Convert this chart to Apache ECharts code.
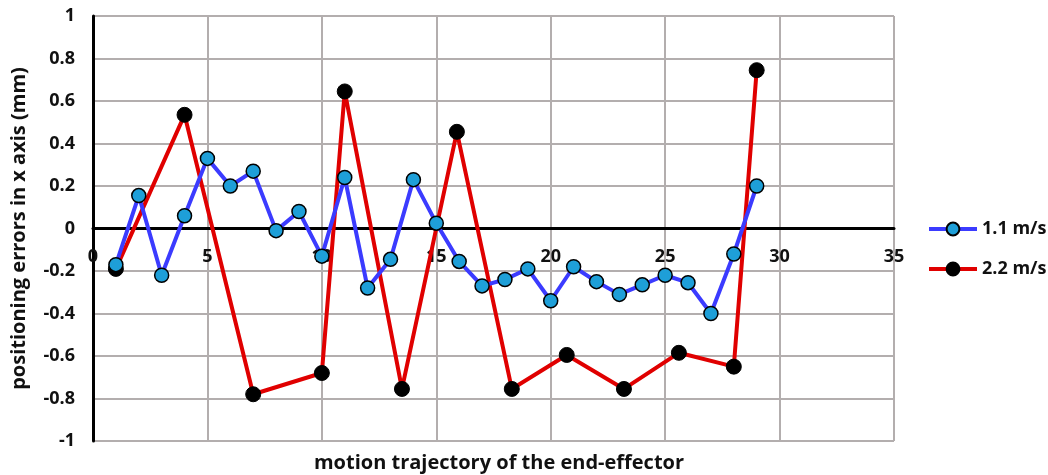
<!DOCTYPE html>
<html>
<head>
<meta charset="utf-8">
<script src="https://cdn.jsdelivr.net/npm/echarts@6/dist/echarts.min.js"></script>
<style>
  html, body { margin: 0; padding: 0; background: #fff; }
  #chart { width: 1048px; height: 475px; }
</style>
</head>
<body>
<div id="chart"></div>
<script>
// 1.1 m/s : one point per step 1..29
const slowX = [1, 2, 3, 4, 5, 6, 7, 8, 9, 10, 11, 12, 13, 14, 15, 16, 17, 18, 19, 20, 21, 22, 23, 24, 25, 26, 27, 28, 29];
const slowY = [-0.17, 0.155, -0.22, 0.06, 0.33, 0.2, 0.27, -0.01, 0.08, -0.13, 0.24, -0.28, -0.145, 0.23, 0.025,
  -0.155, -0.27, -0.24, -0.19, -0.34, -0.18, -0.25, -0.31, -0.265, -0.22, -0.255, -0.4, -0.12, 0.2];
// 2.2 m/s
const fastX = [1, 4, 7, 10, 11, 13.5, 15.9, 18.3, 20.7, 23.2, 25.6, 28, 29];
const fastY = [-0.19, 0.535, -0.78, -0.68, 0.645, -0.755, 0.455, -0.755, -0.595, -0.755, -0.585, -0.65, 0.745];

const seriesNames = ['1.1 m/s', '2.2 m/s'];
const xTitle = 'motion trajectory of the end-effector';
const yTitle = 'positioning errors in x axis (mm)';

const font = '"Open Sans", Lato, sans-serif';
const chart = echarts.init(document.getElementById('chart'));

const pairs = (xs, ys) => xs.map((x, i) => [x, ys[i]]);

// plot area is 425px tall, zero sits half way up
const plotH = 475 - 16 - 34;

chart.setOption({
  animation: false,
  textStyle: { fontFamily: font },
  title: {
    text: xTitle,
    left: 494,
    textAlign: 'center',
    top: 448,
    textStyle: { fontFamily: font, fontWeight: 'bold', fontSize: 20, color: '#111' }
  },
  grid: { left: 93, right: 154, top: 16, bottom: 34 },
  legend: {
    orient: 'vertical',
    left: 922,
    top: 215,
    itemWidth: 48,
    itemHeight: 16,
    itemGap: 22,
    lineStyle: { width: 4 },
    textStyle: { fontFamily: font, fontWeight: 'bold', fontSize: 18, color: '#111' },
    data: seriesNames
  },
  xAxis: {
    type: 'value',
    min: 0,
    max: 35,
    interval: 5,
    offset: -plotH / 2,
    axisLine: { onZero: false, lineStyle: { color: '#000', width: 3 } },
    axisTick: { show: false },
    axisLabel: {
      fontFamily: font, fontWeight: 'bold', fontSize: 18, color: '#111', margin: 19,
      showMinLabel: true, showMaxLabel: true
    },
    splitLine: { show: true, lineStyle: { color: '#b3aeae', width: 2 } }
  },
  yAxis: {
    type: 'value',
    min: -1,
    max: 1,
    interval: 0.2,
    name: yTitle,
    nameLocation: 'middle',
    nameGap: 64,
    nameTextStyle: { fontFamily: font, fontWeight: 'bold', fontSize: 20, color: '#111' },
    axisLine: { show: true, lineStyle: { color: '#000', width: 3 } },
    axisTick: { show: false },
    axisLabel: {
      fontFamily: font, fontWeight: 'bold', fontSize: 18, color: '#111', margin: 18,
      formatter: v => String(Number(v.toFixed(1)))
    },
    splitLine: { show: true, lineStyle: { color: '#b3aeae', width: 2 } }
  },
  series: [
    {
      name: seriesNames[0],
      type: 'line',
      data: pairs(slowX, slowY),
      symbol: 'circle',
      symbolSize: 14,
      z: 3,
      lineStyle: { color: '#3b3bff', width: 4 },
      itemStyle: { color: '#1e9fd8', borderColor: '#000', borderWidth: 1.5 }
    },
    {
      name: seriesNames[1],
      type: 'line',
      data: pairs(fastX, fastY),
      symbol: 'circle',
      symbolSize: 15,
      z: 2,
      lineStyle: { color: '#e00000', width: 4 },
      itemStyle: { color: '#000', borderColor: '#000', borderWidth: 1 }
    }
  ]
});
</script>
</body>
</html>
